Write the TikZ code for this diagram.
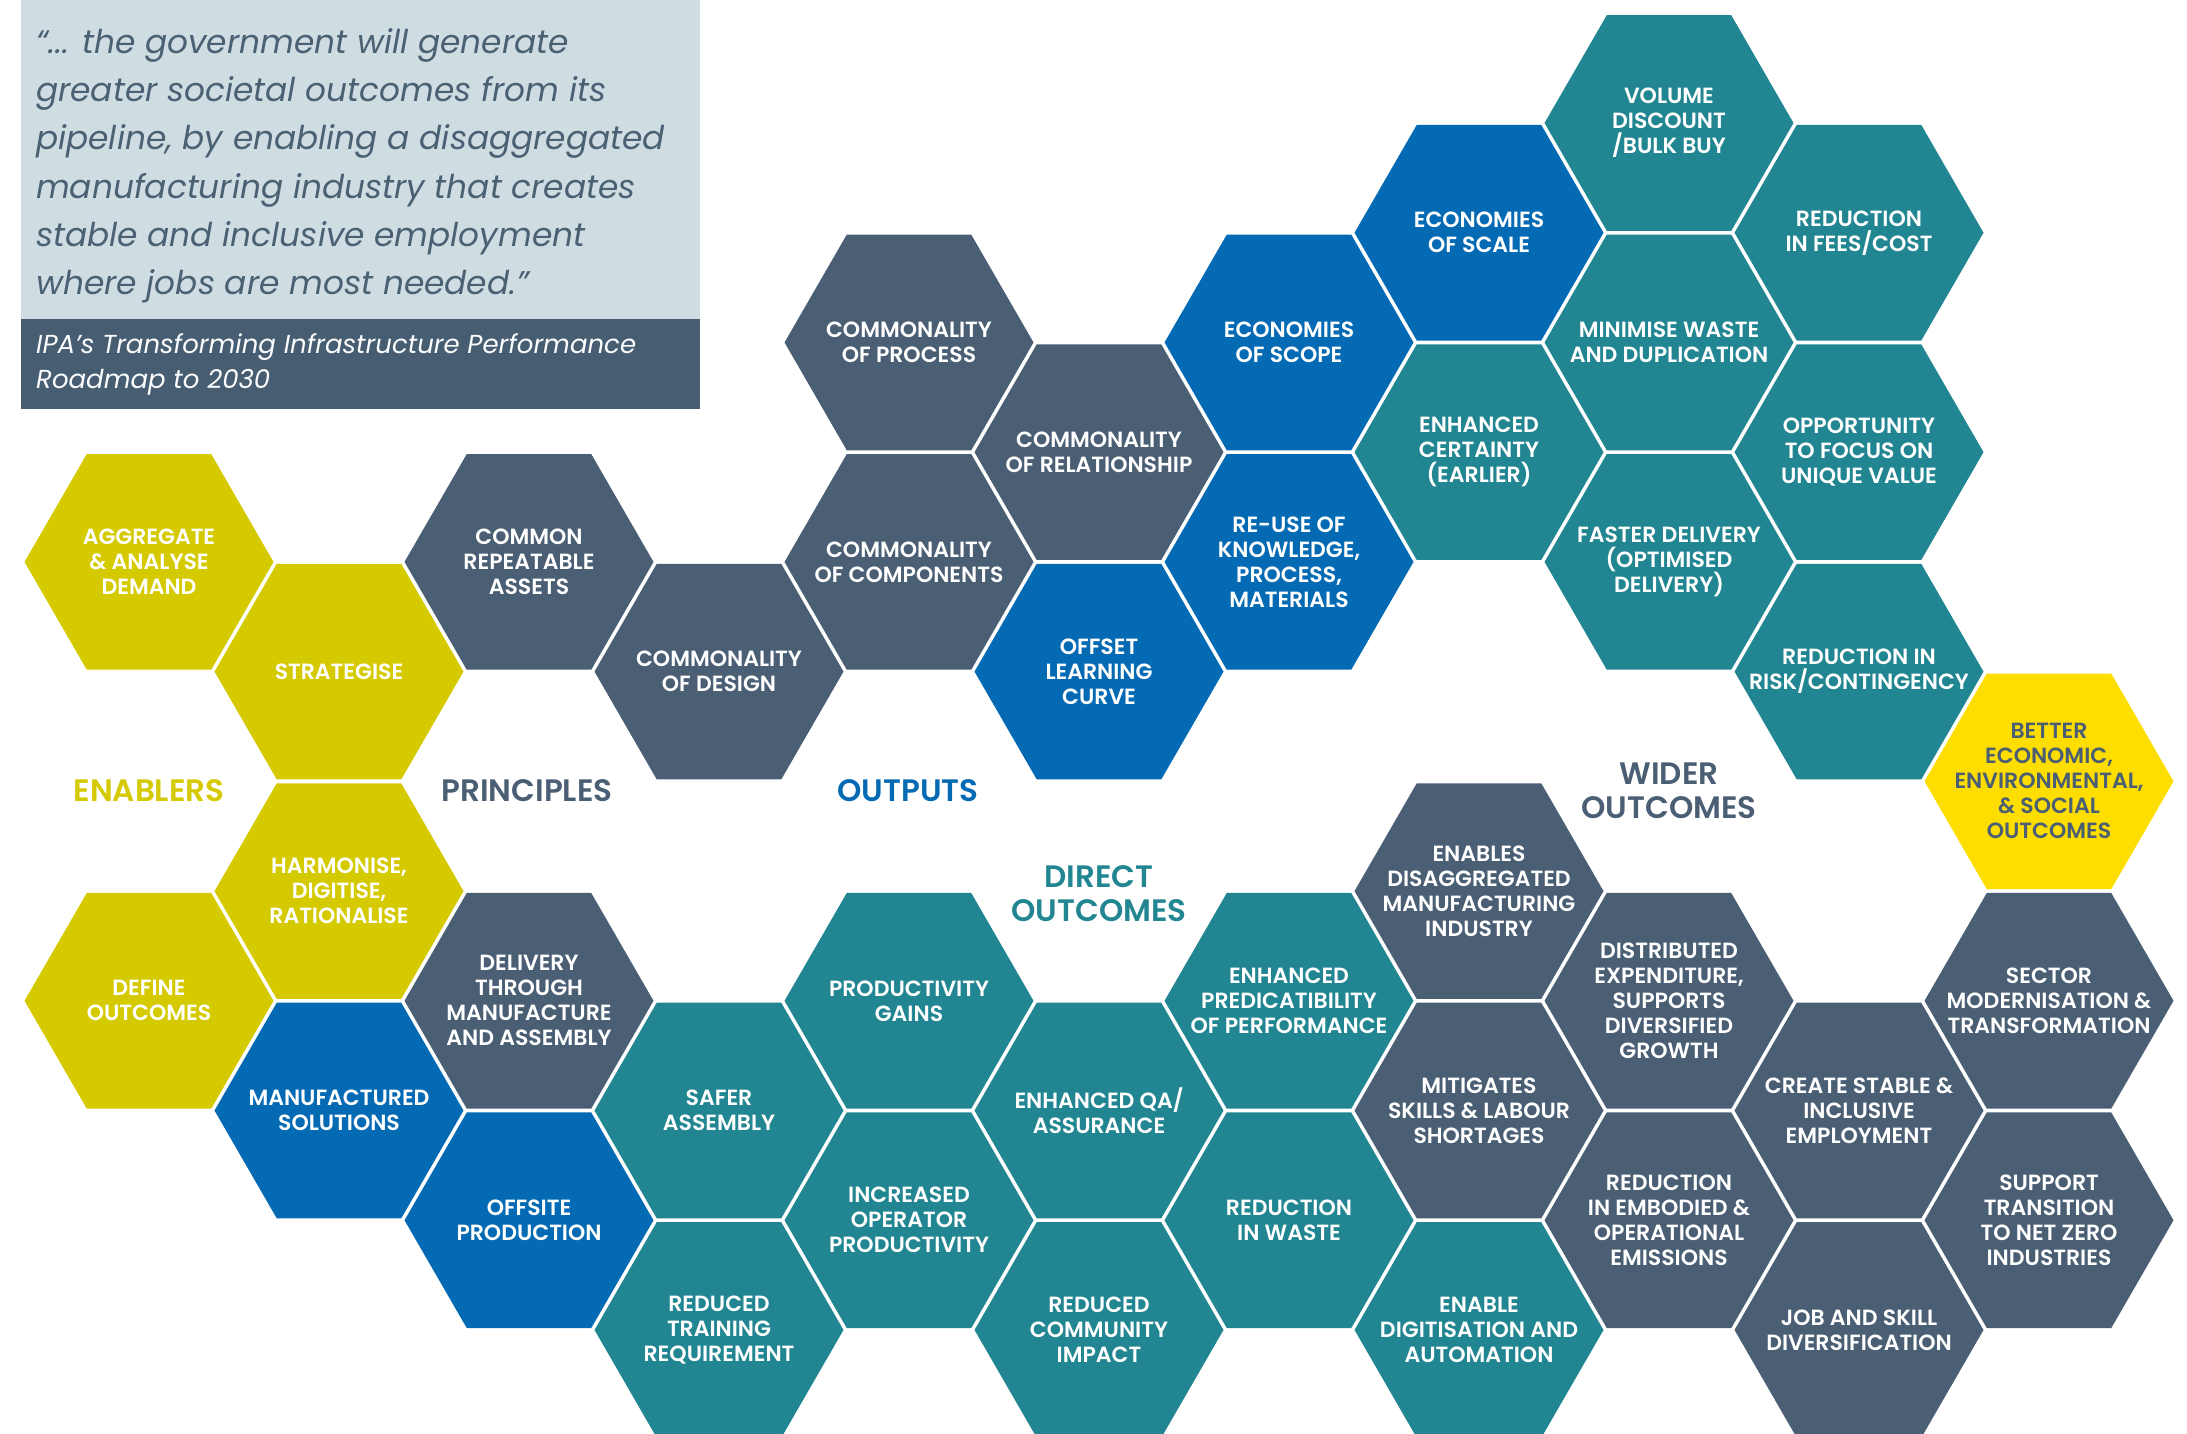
\documentclass[tikz,border=0pt]{standalone}
\usepackage{fontspec}
\setmainfont{Poppins}
\newfontfamily\hexfont{Poppins SemiBold}
\newfontfamily\labfont{Poppins SemiBold}
\newfontfamily\quotefont{Poppins Italic}
\newfontfamily\capfont{Poppins Italic}
\definecolor{yg}{HTML}{D5CA00}
\definecolor{slate}{HTML}{4A5E74}
\definecolor{hblue}{HTML}{056AB4}
\definecolor{teal}{HTML}{218691}
\definecolor{byel}{HTML}{FEDD00}
\definecolor{qbg}{HTML}{CFDDE2}
\definecolor{qband}{HTML}{475E72}
\definecolor{qtext}{HTML}{4A6073}
\tikzset{
  hextext/.style={align=center, inner sep=0pt, text=white, font=\hexfont\fontsize{22}{25}\selectfont},
  grouplabel/.style={align=center, inner sep=0pt, font=\labfont\fontsize{31}{34}\selectfont},
}
\newcommand\hx[6][white]{%
  \pgfmathsetmacro\hxX{149+190*#3}%
  \pgfmathsetmacro\hxY{123+219.45*#4+109.72*mod(#3,2)}%
  \fill[#5] (\hxX+124.5,\hxY) -- ++(120:124.5) -- ++(180:124.5) -- ++(240:124.5) -- ++(300:124.5) -- ++(0:124.5) -- cycle;
  \node[hextext, text=#1] (#2) at (\hxX,\hxY) {#6};
}
\begin{document}
\begin{tikzpicture}[x=1pt,y=-1pt]
\useasboundingbox (0,0) rectangle (2187,1434);
\clip (0,0) rectangle (2187,1434);
% quote box
\fill[qbg] (21,0) rectangle (700,319);
\fill[qband] (21,319) rectangle (700,409);
\node[anchor=north west, inner sep=0pt, align=left, text=qtext, font=\quotefont\fontsize{32.8}{48.3}\selectfont] (quote) at (36,28)
  {“... the government will generate\\greater societal outcomes from its\\pipeline, by enabling a disaggregated\\manufacturing industry that creates\\stable and inclusive employment\\where jobs are most needed.”};
\node[anchor=north west, inner sep=0pt, align=left, text=white!92!qbg, font=\capfont\fontsize{26}{35}\selectfont] (source) at (36,333)
  {IPA’s Transforming Infrastructure Performance\\Roadmap to 2030};
% column 0
\hx{aggregate}{0}{2}{yg}{AGGREGATE\\\& ANALYSE\\DEMAND}
\hx{define}{0}{4}{yg}{DEFINE\\OUTCOMES}
% column 1
\hx{strategise}{1}{2}{yg}{STRATEGISE}
\hx{harmonise}{1}{3}{yg}{HARMONISE,\\DIGITISE,\\RATIONALISE}
\hx{manufactured}{1}{4}{hblue}{MANUFACTURED\\SOLUTIONS}
% column 2
\hx{repeatable}{2}{2}{slate}{COMMON\\REPEATABLE\\ASSETS}
\hx{delivery}{2}{4}{slate}{DELIVERY\\THROUGH\\MANUFACTURE\\AND ASSEMBLY}
\hx{offsite}{2}{5}{hblue}{OFFSITE\\PRODUCTION}
% column 3
\hx{design}{3}{2}{slate}{COMMONALITY\\OF DESIGN}
\hx{safer}{3}{4}{teal}{SAFER\\ASSEMBLY}
\hx{training}{3}{5}{teal}{REDUCED\\TRAINING\\REQUIREMENT}
% column 4
\hx{process}{4}{1}{slate}{COMMONALITY\\OF PROCESS}
\hx{components}{4}{2}{slate}{COMMONALITY\\OF COMPONENTS}
\hx{productivity}{4}{4}{teal}{PRODUCTIVITY\\GAINS}
\hx{operator}{4}{5}{teal}{INCREASED\\OPERATOR\\PRODUCTIVITY}
% column 5
\hx{relationship}{5}{1}{slate}{COMMONALITY\\OF RELATIONSHIP}
\hx{learning}{5}{2}{hblue}{OFFSET\\LEARNING\\CURVE}
\hx{qa}{5}{4}{teal}{ENHANCED QA/\\ASSURANCE}
\hx{community}{5}{5}{teal}{REDUCED\\COMMUNITY\\IMPACT}
% column 6
\hx{scope}{6}{1}{hblue}{ECONOMIES\\OF SCOPE}
\hx{reuse}{6}{2}{hblue}{RE-USE OF\\KNOWLEDGE,\\PROCESS,\\MATERIALS}
\hx{predict}{6}{4}{teal}{ENHANCED\\PREDICATIBILITY\\OF PERFORMANCE}
\hx{waste}{6}{5}{teal}{REDUCTION\\IN WASTE}
% column 7
\hx{scale}{7}{0}{hblue}{ECONOMIES\\OF SCALE}
\hx{certainty}{7}{1}{teal}{ENHANCED\\CERTAINTY\\(EARLIER)}
\hx{disagg}{7}{3}{slate}{ENABLES\\DISAGGREGATED\\MANUFACTURING\\INDUSTRY}
\hx{skills}{7}{4}{slate}{MITIGATES\\SKILLS \& LABOUR\\SHORTAGES}
\hx{digitisation}{7}{5}{teal}{ENABLE\\DIGITISATION AND\\AUTOMATION}
% column 8
\hx{volume}{8}{0}{teal}{VOLUME\\DISCOUNT\\/BULK BUY}
\hx{minimise}{8}{1}{teal}{MINIMISE WASTE\\AND DUPLICATION}
\hx{faster}{8}{2}{teal}{FASTER DELIVERY\\(OPTIMISED\\DELIVERY)}
\hx{distributed}{8}{4}{slate}{DISTRIBUTED\\EXPENDITURE,\\SUPPORTS\\DIVERSIFIED\\GROWTH}
\hx{emissions}{8}{5}{slate}{REDUCTION\\IN EMBODIED \&\\OPERATIONAL\\EMISSIONS}
% column 9
\hx{fees}{9}{0}{teal}{REDUCTION\\IN FEES/COST}
\hx{unique}{9}{1}{teal}{OPPORTUNITY\\TO FOCUS ON\\UNIQUE VALUE}
\hx{risk}{9}{2}{teal}{REDUCTION IN\\RISK/CONTINGENCY}
\hx{employment}{9}{4}{slate}{CREATE STABLE \&\\INCLUSIVE\\EMPLOYMENT}
\hx{jobs}{9}{5}{slate}{JOB AND SKILL\\DIVERSIFICATION}
% column 10
\hx[slate]{better}{10}{3}{byel}{BETTER\\ECONOMIC,\\ENVIRONMENTAL,\\\& SOCIAL\\OUTCOMES}
\hx{sector}{10}{4}{slate}{SECTOR\\MODERNISATION \&\\TRANSFORMATION}
\hx{netzero}{10}{5}{slate}{SUPPORT\\TRANSITION\\TO NET ZERO\\INDUSTRIES}
% group labels
\node[grouplabel, text=yg] (enablers) at (149,791) {ENABLERS};
\node[grouplabel, text=slate] (principles) at (527,791) {PRINCIPLES};
\node[grouplabel, text=hblue] (outputs) at (908,791) {OUTPUTS};
\node[grouplabel, text=teal] (direct) at (1099,894) {DIRECT\\OUTCOMES};
\node[grouplabel, text=slate] (wider) at (1669,791) {WIDER\\OUTCOMES};
\end{tikzpicture}
\end{document}
